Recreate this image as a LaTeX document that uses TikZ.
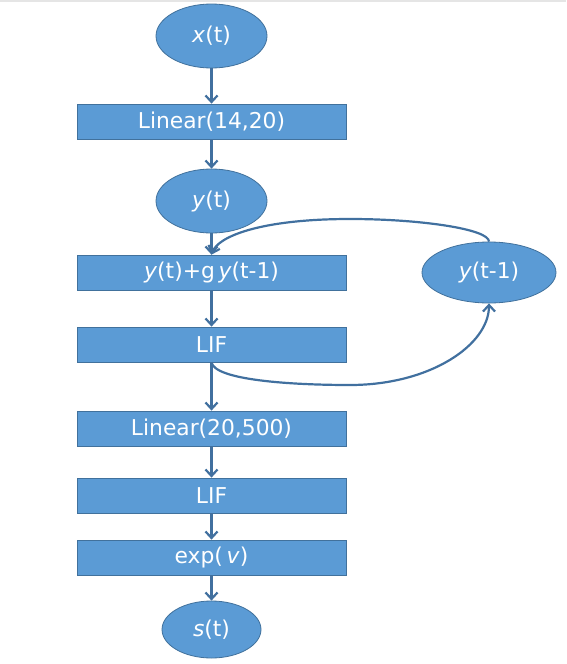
\documentclass[tikz,border=0pt]{standalone}
\usepackage{fontspec}
\setmainfont{DejaVu Sans}
\usetikzlibrary{shapes.geometric,arrows.meta}
\definecolor{boxfill}{HTML}{5B9BD5}
\definecolor{boxline}{HTML}{41719C}
\definecolor{arrowc}{HTML}{41709F}
\begin{document}
\begin{tikzpicture}[x=1pt,y=-1pt,
  every node/.style={text=white,font=\fontsize{21.8}{26}\selectfont,inner sep=0pt},
  blockbox/.style={rectangle,draw=boxline,line width=0.8pt,fill=boxfill,minimum width=269pt,minimum height=35pt},
  ellbox/.style={ellipse,draw=boxline,line width=0.8pt,fill=boxfill},
  conn/.style={draw=arrowc,line width=2.2pt,-{Straight Barb[length=6.5pt,width=12pt]}}]
\useasboundingbox (0,0) rectangle (566,664);
\draw[draw=black!10,line width=1.5pt] (0,0.75) -- (566,0.75);
\node[ellbox,minimum width=111pt,minimum height=64pt] (x) at (211.5,36) {\textit{x}(t)};
\node[blockbox] (lin1) at (211.5,121.5) {Linear(14,20)};
\node[ellbox,minimum width=111pt,minimum height=64pt] (y) at (211.5,201) {\textit{y}(t)};
\node[blockbox] (sum) at (211.5,272.5) {\textit{y}(t)+g\,\textit{y}(t-1)};
\node[ellbox,minimum width=134pt,minimum height=61pt] (y1) at (489,272.5) {\textit{y}(t-1)};
\node[blockbox] (lif1) at (211.5,344.5) {LIF};
\node[blockbox] (lin2) at (211.5,428.5) {Linear(20,500)};
\node[blockbox] (lif2) at (211.5,495.5) {LIF};
\node[blockbox] (expv) at (211.5,557.5) {exp(\,\textit{v})};
\node[ellbox,minimum width=99pt,minimum height=57pt] (s) at (211.5,629.5) {\textit{s}(t)};
\draw[conn] (x) -- (lin1);
\draw[conn] (lin1) -- (y);
\draw[conn] (y) -- (sum);
\draw[conn] (sum) -- (lif1);
\draw[conn] (lif1) -- (lin2);
\draw[conn] (lin2) -- (lif2);
\draw[conn] (lif2) -- (expv);
\draw[conn] (expv) -- (s);
\draw[conn] (y1.north) .. controls (489,229) and (420,219) .. (350,219) .. controls (262,219) and (218,236) .. (sum.north);
\draw[conn] (lif1.south) .. controls (215,380) and (290,385) .. (350,385) .. controls (430,385) and (489,345) .. (y1.south);
\end{tikzpicture}
\end{document}
